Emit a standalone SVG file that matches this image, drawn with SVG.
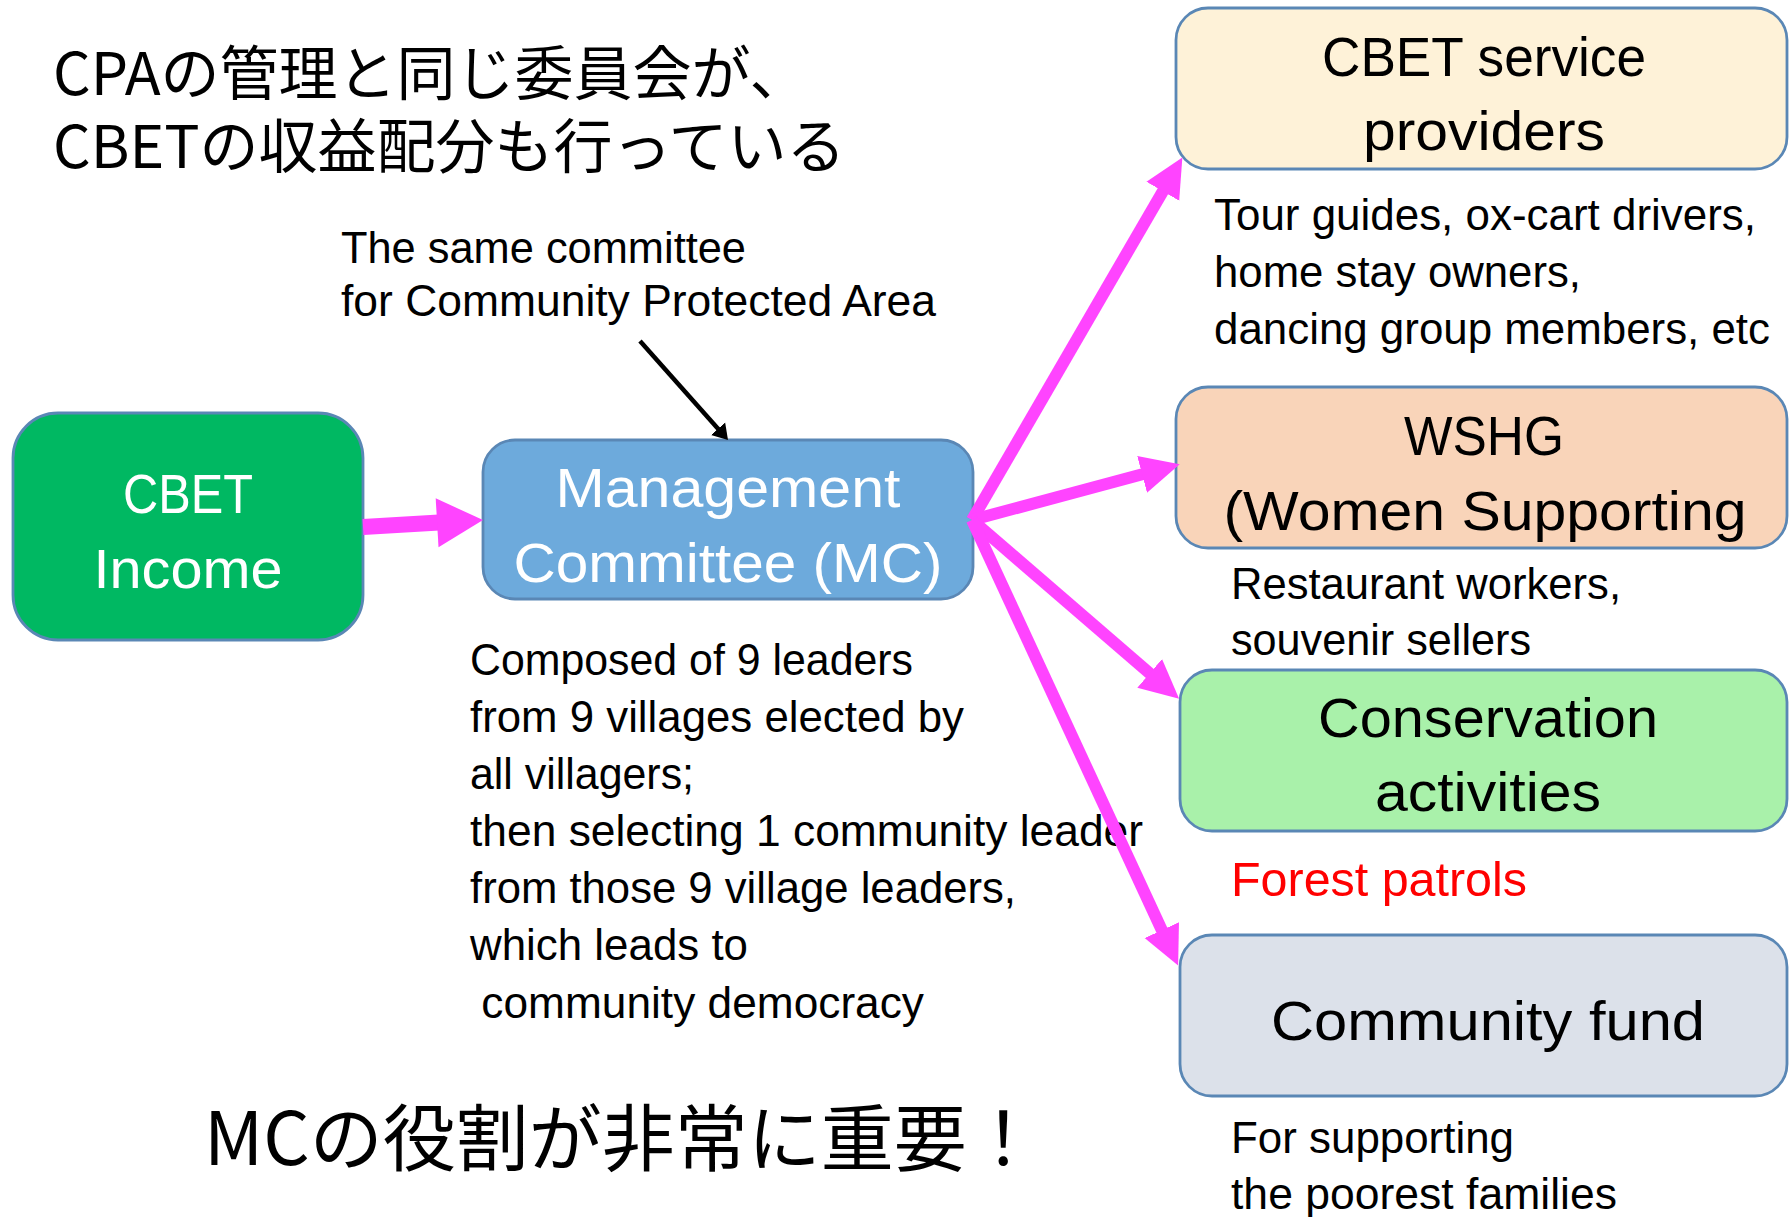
<svg xmlns="http://www.w3.org/2000/svg" width="1789" height="1217" viewBox="0 0 1789 1217">
  <style>
    .box { stroke: #5A87B5; stroke-width: 2.8; }
    .ttl { font-family: "Liberation Sans", Arial, sans-serif; font-size: 56px; fill: #000; text-anchor: middle; }
    .wht { fill: #fff; }
    .sm { font-family: "Liberation Sans", Arial, sans-serif; font-size: 44.5px; fill: #000; }
    .red { fill: #FF0000; font-size: 48.4px; }
    .jp { font-family: "Noto Sans CJK JP", "Noto Sans CJK SC", sans-serif; fill: #000; }
    .pink { stroke: #FF44FF; fill: none; stroke-linecap: butt; }
    .blk { stroke: #000; stroke-width: 4.5; fill: none; }
  </style>
  <defs>
    <marker id="headPink" markerUnits="userSpaceOnUse" orient="auto" markerWidth="40" markerHeight="40" viewBox="0 -18 37 36" refX="2" refY="0">
      <path d="M0,-17.5 L36,0 L0,17.5 Z" fill="#FF44FF"/>
    </marker>
    <marker id="headPinkBig" markerUnits="userSpaceOnUse" orient="auto" markerWidth="50" markerHeight="50" viewBox="0 -25 47 50" refX="2" refY="0">
      <path d="M0,-24.5 L46,0 L0,24.5 Z" fill="#FF44FF"/>
    </marker>
    <marker id="headBlack" markerUnits="userSpaceOnUse" orient="auto" markerWidth="16" markerHeight="20" viewBox="0 -10 16 20" refX="1" refY="0">
      <path d="M0,-9.5 L15,0 L0,9.5 Z" fill="#000"/>
    </marker>
  </defs>

  <rect width="1789" height="1217" fill="#fff"/>

  <g id="title">
    <text class="jp" font-size="59"><tspan x="53" y="95">CPAの管理と同じ委員会が、</tspan><tspan x="53" y="168">CBETの収益配分も行っている</tspan></text>
  </g>

  <g id="note-cpa">
    <text class="sm" x="341" y="263" textLength="405" lengthAdjust="spacingAndGlyphs">The same committee</text>
    <text class="sm" x="341" y="316" textLength="595" lengthAdjust="spacingAndGlyphs">for Community Protected Area</text>
  </g>

  <g id="node-cbet-income">
    <rect class="box" x="13" y="413" width="350" height="227" rx="45" ry="45" fill="#00B862"/>
    <text class="ttl wht" x="188" y="513" textLength="130" lengthAdjust="spacingAndGlyphs">CBET</text>
    <text class="ttl wht" x="188" y="588" textLength="189" lengthAdjust="spacingAndGlyphs">Income</text>
  </g>

  <g id="node-mc">
    <rect class="box" x="483" y="440" width="490" height="159" rx="32" ry="32" fill="#6DAADC"/>
    <text class="ttl wht" x="728" y="507" textLength="345" lengthAdjust="spacingAndGlyphs">Management</text>
    <text class="ttl wht" x="728" y="582" textLength="429" lengthAdjust="spacingAndGlyphs">Committee (MC)</text>
  </g>

  <g id="mc-description">
    <text class="sm" x="470" y="675" textLength="443" lengthAdjust="spacingAndGlyphs">Composed of 9 leaders</text>
    <text class="sm" x="470" y="732" textLength="494" lengthAdjust="spacingAndGlyphs">from 9 villages elected by</text>
    <text class="sm" x="470" y="789" textLength="224" lengthAdjust="spacingAndGlyphs">all villagers;</text>
    <text class="sm" x="470" y="846" textLength="673" lengthAdjust="spacingAndGlyphs">then selecting 1 community leader</text>
    <text class="sm" x="470" y="903" textLength="546" lengthAdjust="spacingAndGlyphs">from those 9 village leaders,</text>
    <text class="sm" x="470" y="960" textLength="278" lengthAdjust="spacingAndGlyphs">which leads to</text>
    <text class="sm" x="469" y="1018" xml:space="preserve" textLength="455" lengthAdjust="spacingAndGlyphs"> community democracy</text>
  </g>

  <g id="node-service-providers">
    <rect class="box" x="1176" y="8" width="611" height="161" rx="32" ry="32" fill="#FEF2D8"/>
    <text class="ttl" x="1484" y="76" textLength="324" lengthAdjust="spacingAndGlyphs">CBET service</text>
    <text class="ttl" x="1484" y="150" textLength="242" lengthAdjust="spacingAndGlyphs">providers</text>
    <text class="sm" x="1214" y="230" textLength="542" lengthAdjust="spacingAndGlyphs">Tour guides, ox-cart drivers,</text>
    <text class="sm" x="1214" y="287" textLength="367" lengthAdjust="spacingAndGlyphs">home stay owners,</text>
    <text class="sm" x="1214" y="344" textLength="556" lengthAdjust="spacingAndGlyphs">dancing group members, etc</text>
  </g>

  <g id="node-wshg">
    <rect class="box" x="1176" y="387" width="611" height="161" rx="32" ry="32" fill="#F9D4B9"/>
    <text class="ttl" x="1484" y="455" textLength="160" lengthAdjust="spacingAndGlyphs">WSHG</text>
    <text class="ttl" x="1485" y="530" textLength="523" lengthAdjust="spacingAndGlyphs">(Women Supporting</text>
    <text class="sm" x="1231" y="599" textLength="390" lengthAdjust="spacingAndGlyphs">Restaurant workers,</text>
    <text class="sm" x="1231" y="655" textLength="300" lengthAdjust="spacingAndGlyphs">souvenir sellers</text>
  </g>

  <g id="node-conservation">
    <rect class="box" x="1180" y="670" width="607" height="161" rx="32" ry="32" fill="#A9F1AA"/>
    <text class="ttl" x="1488" y="737" textLength="340" lengthAdjust="spacingAndGlyphs">Conservation</text>
    <text class="ttl" x="1488" y="811" textLength="226" lengthAdjust="spacingAndGlyphs">activities</text>
    <text class="sm red" x="1231" y="896" textLength="296" lengthAdjust="spacingAndGlyphs">Forest patrols</text>
  </g>

  <g id="node-community-fund">
    <rect class="box" x="1180" y="935" width="607" height="161" rx="32" ry="32" fill="#DCE1EA"/>
    <text class="ttl" x="1488" y="1040" textLength="434" lengthAdjust="spacingAndGlyphs">Community fund</text>
    <text class="sm" x="1231" y="1153" textLength="283" lengthAdjust="spacingAndGlyphs">For supporting</text>
    <text class="sm" x="1231" y="1209" textLength="386" lengthAdjust="spacingAndGlyphs">the poorest families</text>
  </g>

  <g id="conclusion">
    <text class="jp" x="204" y="1165" font-size="73">MCの役割が非常に重要！</text>
  </g>

  <g id="connectors">
    <line class="blk" x1="640" y1="341" x2="718.7" y2="429.5" marker-end="url(#headBlack)"/>
    <line class="pink" stroke-width="16" x1="363" y1="527" x2="439.1" y2="522.6" marker-end="url(#headPinkBig)"/>
    <line class="pink" stroke-width="12" x1="972" y1="520" x2="1163.9" y2="189.4" marker-end="url(#headPink)"/>
    <line class="pink" stroke-width="12" x1="972" y1="520" x2="1144.2" y2="473.8" marker-end="url(#headPink)"/>
    <line class="pink" stroke-width="12" x1="972" y1="520" x2="1151.3" y2="674.8" marker-end="url(#headPink)"/>
    <line class="pink" stroke-width="12" x1="972" y1="520" x2="1162.7" y2="932.1" marker-end="url(#headPink)"/>
  </g>
</svg>
